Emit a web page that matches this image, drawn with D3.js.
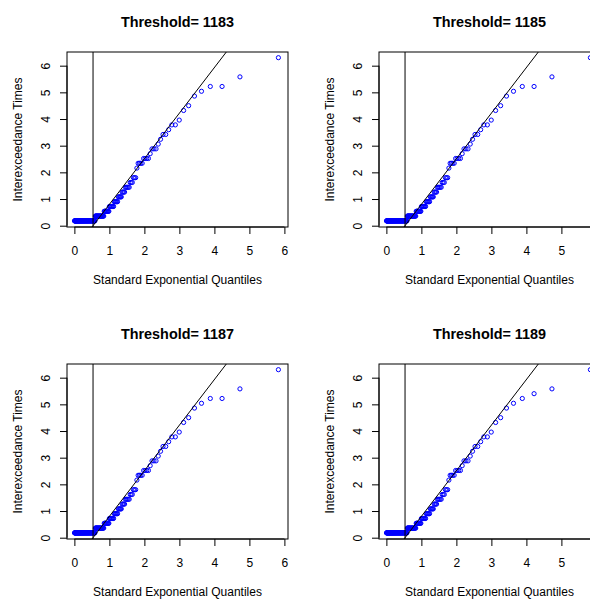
<!DOCTYPE html>
<html>
<head>
<meta charset="utf-8">
<script src="https://cdn.jsdelivr.net/npm/d3@7"></script>
<style>
  html, body { margin: 0; padding: 0; background: #fff; overflow: hidden; }
  svg { display: block; }
  text { font-family: "Liberation Sans", Arial, Helvetica, sans-serif; fill: #000; }
</style>
</head>
<body>
<svg id="chart" width="590" height="599"></svg>
<script>
// ---------------- data ----------------
const thresholds = [1183, 1185, 1187, 1189];

// sorted interexceedance times: distinct values and how many times each occurs
const timeLevelsA = [0.18, 0.36, 0.54, 0.72, 0.90, 1.08, 1.26, 1.44, 1.62, 1.80, 2.16, 2.34, 2.52, 2.70, 2.88, 3.06, 3.24, 3.42, 3.60, 3.78, 3.96, 4.32, 4.50, 4.86, 5.04, 5.22, 5.58, 6.30];
const timeCountsA = [76, 21, 10, 8, 6, 5, 4, 5, 3, 3, 1, 4, 4, 1, 3, 1, 1, 2, 1, 2, 1, 1, 1, 1, 1, 2, 1, 1];

const timeLevelsB = [0.18, 0.36, 0.54, 0.72, 0.90, 1.08, 1.26, 1.44, 1.62, 1.80, 2.16, 2.34, 2.52, 2.70, 2.88, 3.06, 3.24, 3.42, 3.60, 3.78, 3.96, 4.32, 4.50, 4.86, 5.04, 5.22, 5.40, 5.58, 6.30];
const timeCountsB = [76, 21, 10, 8, 6, 5, 4, 5, 3, 3, 1, 4, 4, 1, 3, 1, 1, 2, 1, 2, 1, 1, 1, 1, 1, 1, 1, 1, 1];

const panelSamples = [
  [timeLevelsA, timeCountsA],
  [timeLevelsA, timeCountsA],
  [timeLevelsA, timeCountsA],
  [timeLevelsB, timeCountsB]
];

// reference line y = intercept + slope * x, and vertical line position
const refIntercept = -0.91;
const refSlope = 1.71;
const refVertical = 0.533;

const xTicks = [0, 1, 2, 3, 4, 5, 6];
const yTicks = [0, 1, 2, 3, 4, 5, 6];

const titleText = "Threshold= ";
const xLabel = "Standard Exponential Quantiles";
const yLabel = "Interexceedance Times";

// ---------------- drawing ----------------
const W = 590;
const svg = d3.select("#chart");
const cell = 312;
const box = { left: 67, right: 288, top: 52, bottom: 227 };

function expand(levels, counts) {
  const out = [];
  levels.forEach((v, i) => { for (let k = 0; k < counts[i]; k++) out.push(v); });
  return out;
}

thresholds.forEach((th, p) => {
  const ox = (p % 2) * cell;
  const oy = Math.floor(p / 2) * cell;
  const g = svg.append("g").attr("transform", `translate(${ox},${oy})`);

  const sample = expand(panelSamples[p][0], panelSamples[p][1]);
  const n = sample.length;
  // standard exponential quantiles at plotting positions (i - 0.5)/n
  const pts = sample.map((v, i) => ({ q: -Math.log(1 - (i + 0.5) / n), t: v }));

  const x = d3.scaleLinear().domain([-0.211, 6.103]).range([box.left, box.right]);
  const y = d3.scaleLinear().domain([-0.049, 6.513]).range([box.bottom, box.top]);

  const clipId = "clip" + p;
  g.append("clipPath").attr("id", clipId)
    .append("rect").attr("x", box.left).attr("y", box.top)
    .attr("width", box.right - box.left).attr("height", box.bottom - box.top);

  // points
  g.append("g").selectAll("circle").data(pts).join("circle")
    .attr("cx", d => x(d.q)).attr("cy", d => y(d.t)).attr("r", 2.1)
    .attr("fill", "none").attr("stroke", "#0000ff").attr("stroke-width", 1);

  // reference lines
  const lg = g.append("g").attr("clip-path", `url(#${clipId})`);
  const xd = x.domain();
  lg.append("line")
    .attr("x1", x(xd[0])).attr("y1", y(refIntercept + refSlope * xd[0]))
    .attr("x2", x(xd[1])).attr("y2", y(refIntercept + refSlope * xd[1]))
    .attr("stroke", "#000").attr("stroke-width", 1);
  lg.append("line")
    .attr("x1", x(refVertical)).attr("x2", x(refVertical))
    .attr("y1", box.top).attr("y2", box.bottom)
    .attr("stroke", "#000").attr("stroke-width", 1);

  // box
  g.append("rect").attr("x", box.left).attr("y", box.top)
    .attr("width", box.right - box.left).attr("height", box.bottom - box.top)
    .attr("fill", "none").attr("stroke", "#000").attr("stroke-width", 1);

  // x axis
  const xa = g.append("g").attr("transform", `translate(0,${box.bottom})`)
    .call(d3.axisBottom(x).tickValues(xTicks).tickSize(7).tickPadding(0).tickFormat(d3.format("d")));
  xa.select(".domain").attr("d", `M${x(xTicks[0])},0H${x(xTicks[xTicks.length - 1])}`).attr("stroke", "#000");
  xa.selectAll("line").attr("stroke", "#000");
  xa.selectAll("text").attr("font-size", 12).attr("dy", null).attr("y", 28)
    .attr("font-family", '"Liberation Sans", Arial, sans-serif').attr("fill", "#000");
  // labels lying beyond the picture's right edge are not visible in the reference
  xa.selectAll(".tick").filter(d => ox + x(d) - 4 > W).select("text").remove();

  // y axis
  const ya = g.append("g").attr("transform", `translate(${box.left},0)`)
    .call(d3.axisLeft(y).tickValues(yTicks).tickSize(7).tickFormat(d3.format("d")));
  ya.select(".domain").attr("d", `M0,${y(yTicks[0])}V${y(yTicks[yTicks.length - 1])}`).attr("stroke", "#000");
  ya.selectAll("line").attr("stroke", "#000");
  ya.selectAll(".tick text")
    .attr("x", null).attr("dy", null)
    .attr("transform", "translate(-17,0) rotate(-90)")
    .attr("text-anchor", "middle")
    .attr("font-size", 12)
    .attr("font-family", '"Liberation Sans", Arial, sans-serif').attr("fill", "#000");

  // title
  g.append("text").attr("x", (box.left + box.right) / 2).attr("y", 27.3)
    .attr("text-anchor", "middle").attr("font-weight", "bold").attr("font-size", 14.4)
    .text(titleText + th);

  // axis labels
  g.append("text").attr("x", (box.left + box.right) / 2).attr("y", 284)
    .attr("text-anchor", "middle").attr("font-size", 12).text(xLabel);
  g.append("text")
    .attr("transform", `translate(22,${(box.top + box.bottom) / 2}) rotate(-90)`)
    .attr("text-anchor", "middle").attr("font-size", 12).text(yLabel);
});
</script>
</body>
</html>
